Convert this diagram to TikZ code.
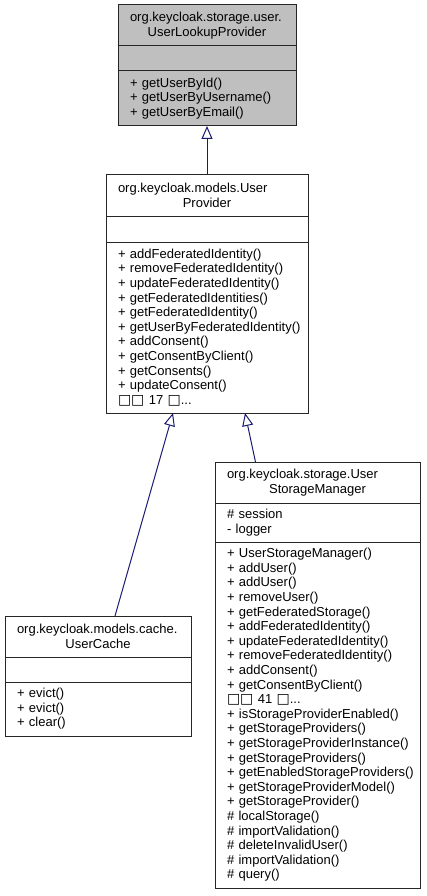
\documentclass[tikz,border=0pt]{standalone}
\usepackage{fontspec}
\setmainfont{Liberation Sans}
\newfontfamily\glyphfont{DejaVu Sans}
\usetikzlibrary{arrows.meta,positioning}
\definecolor{edgeblue}{rgb}{0.1,0.1,0.44}
\definecolor{basegray}{rgb}{0.75,0.75,0.75}
\newcommand{\nochar}{{\glyphfont\fontsize{14}{14}\selectfont □}}
\hyphenpenalty=10000
\exhyphenpenalty=10000

\begin{document}
\begin{tikzpicture}[x=1pt,y=-1pt,
    every node/.style={font=\fontsize{13}{14.6}\selectfont},
    sect/.style={draw=black!85,line width=1pt,outer sep=0pt,inner xsep=12pt,inner ysep=2pt,text width=#1},
    head/.style={sect=#1,align=center,minimum height=41pt},
    part/.style={sect=#1,align=left},
    inh/.style={draw=edgeblue,line width=1pt,-{Triangle[open,length=13pt,width=11pt]}}]
\useasboundingbox (0,0) rectangle (426,896);
% base class
\node[head=154pt,fill=basegray,anchor=north west] (lookupT) at (118,5)
    {\makebox[\linewidth][l]{org.keycloak.storage.user.}\\UserLookupProvider};
\node[part=154pt,fill=basegray,minimum height=25pt,below=0pt of lookupT] (lookupA) {};
\node[part=154pt,fill=basegray,minimum height=55pt,below=0pt of lookupA] (lookupM)
    {+~getUserById()\\+~getUserByUsername()\\+~getUserByEmail()};
% provider
\node[head=178pt,anchor=north west] (providerT) at (106,175)
    {\makebox[\linewidth][l]{org.keycloak.models.User}\\Provider};
\node[part=178pt,minimum height=26pt,below=0pt of providerT] (providerA) {};
\node[part=178pt,minimum height=171pt,below=0pt of providerA] (providerM)
    {+~addFederatedIdentity()\\+~removeFederatedIdentity()\\+~updateFederatedIdentity()\\
     +~getFederatedIdentities()\\+~getFederatedIdentity()\\+~getUserByFederatedIdentity()\\
     +~addConsent()\\+~getConsentByClient()\\+~getConsents()\\+~updateConsent()\\
     \nochar\nochar{}~17~\nochar...};
% cache
\node[head=162pt,anchor=north west] (cacheT) at (5,616)
    {\makebox[\linewidth][l]{org.keycloak.models.cache.}\\UserCache};
\node[part=162pt,minimum height=25pt,below=0pt of cacheT] (cacheA) {};
\node[part=162pt,minimum height=54pt,below=0pt of cacheA] (cacheM)
    {+~evict()\\+~evict()\\+~clear()};
% storage manager
\node[head=181pt,anchor=north west] (managerT) at (215,462)
    {\makebox[\linewidth][l]{org.keycloak.storage.User}\\StorageManager};
\node[part=181pt,minimum height=39pt,below=0pt of managerT] (managerA)
    {\#~session\\-~logger};
\node[part=181pt,minimum height=346pt,below=0pt of managerA] (managerM)
    {+~UserStorageManager()\\+~addUser()\\+~addUser()\\+~removeUser()\\
     +~getFederatedStorage()\\+~addFederatedIdentity()\\+~updateFederatedIdentity()\\
     +~removeFederatedIdentity()\\+~addConsent()\\+~getConsentByClient()\\
     \nochar\nochar{}~41~\nochar...\\
     +~isStorageProviderEnabled()\\+~getStorageProviders()\\+~getStorageProviderInstance()\\
     +~getStorageProviders()\\+~getEnabledStorageProviders()\\+~getStorageProviderModel()\\
     +~getStorageProvider()\\\#~localStorage()\\\#~importValidation()\\
     \#~deleteInvalidUser()\\\#~importValidation()\\\#~query()};
% inheritance
\draw[inh] (providerT.north) -- (lookupM.south);
\draw[inh] ([xshift=17pt]cacheT.north) -- ([xshift=-34pt]providerM.south);
\draw[inh] ([xshift=-62pt]managerT.north) -- ([xshift=38pt]providerM.south);
\end{tikzpicture}
\end{document}
